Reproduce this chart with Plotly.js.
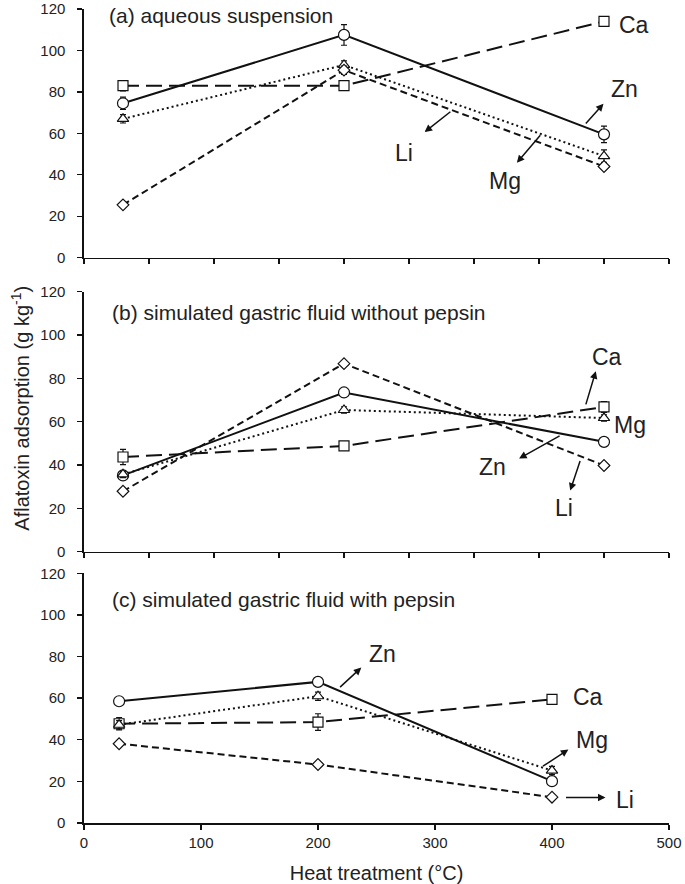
<!DOCTYPE html>
<html>
<head>
<meta charset="utf-8">
<script src="https://cdn.plot.ly/plotly-3.0.1.min.js"></script>
<style>html,body{margin:0;padding:0;background:#fff;}#chart{width:685px;height:884px;}</style>
</head>
<body>
<div id="chart"></div>
<script>
// ---- data ----
const temps = [30, 200, 400];
const metals = ['Ca', 'Zn', 'Mg', 'Li'];
const panelTitles = ['(a) aqueous suspension', '(b) simulated gastric fluid without pepsin', '(c) simulated gastric fluid with pepsin'];

// (a) aqueous suspension
const aqCa = [83, 83, 114];
const aqZn = [74.5, 107.5, 59.5];
const aqMg = [67, 93, 49];
const aqLi = [25.5, 90.5, 44];
const aqCaErr = [2.5, 1.5, 1.5];
const aqZnErr = [3, 5, 4];
const aqMgErr = [2, 2, 3];
const aqLiErr = [1, 2, 1];

// (b) simulated gastric fluid without pepsin
const sgfCa = [43.7, 48.8, 66.8];
const sgfZn = [35.2, 73.5, 50.7];
const sgfMg = [35.7, 65.4, 61.7];
const sgfLi = [27.9, 86.8, 39.8];
const sgfCaErr = [3.5, 2, 2.5];
const sgfZnErr = [1.5, 1.5, 1.5];
const sgfMgErr = [1.5, 1.5, 1.5];
const sgfLiErr = [1, 1, 1];

// (c) simulated gastric fluid with pepsin
const pepCa = [47.7, 48.5, 59.4];
const pepZn = [58.5, 67.8, 20.1];
const pepMg = [47.2, 60.9, 25.2];
const pepLi = [38.1, 28.1, 12.4];
const pepCaErr = [3, 4, 1.5];
const pepZnErr = [1, 1.5, 1.5];
const pepMgErr = [2, 2, 2];
const pepLiErr = [1, 1, 1];

// ---- styles ----
const styles = {
  Ca: {dash: '16px,7px', symbol: 'square', size: 10},
  Zn: {dash: 'solid', symbol: 'circle', size: 11},
  Mg: {dash: '2px,3px', symbol: 'triangle-up', size: 10},
  Li: {dash: '7px,4px', symbol: 'diamond', size: 9}
};

const panels = [
  {xa: 'x', ya: 'y', vals: {Ca: aqCa, Zn: aqZn, Mg: aqMg, Li: aqLi}, errs: {Ca: aqCaErr, Zn: aqZnErr, Mg: aqMgErr, Li: aqLiErr}},
  {xa: 'x2', ya: 'y2', vals: {Ca: sgfCa, Zn: sgfZn, Mg: sgfMg, Li: sgfLi}, errs: {Ca: sgfCaErr, Zn: sgfZnErr, Mg: sgfMgErr, Li: sgfLiErr}},
  {xa: 'x3', ya: 'y3', vals: {Ca: pepCa, Zn: pepZn, Mg: pepMg, Li: pepLi}, errs: {Ca: pepCaErr, Zn: pepZnErr, Mg: pepMgErr, Li: pepLiErr}}
];

const traces = [];
panels.forEach(p => {
  metals.forEach(m => {
    const s = styles[m];
    traces.push({
      type: 'scatter', mode: 'lines+markers', name: m, showlegend: false,
      x: temps, y: p.vals[m], xaxis: p.xa, yaxis: p.ya,
      line: {color: '#111', width: 2, dash: s.dash},
      marker: {symbol: s.symbol, size: s.size, color: 'white', line: {color: '#111', width: 1.2}},
      error_y: {type: 'data', array: p.errs[m], visible: true, color: '#111', thickness: 1.2, width: 3}
    });
  });
});

const FONT = 'Liberation Sans, Arial, sans-serif';
const TXT = '#222';

function xax(range, dtick, labels, anchor) {
  return {
    range: range, dtick: dtick, tick0: 0, anchor: anchor, domain: [0, 1],
    showticklabels: labels, ticks: 'outside', ticklen: 5, tickwidth: 1.3, tickcolor: '#111',
    showline: true, linecolor: '#111', linewidth: 1.6, showgrid: false, zeroline: false,
    tickfont: {family: FONT, size: 15, color: TXT}, fixedrange: true
  };
}
function yax(domain, anchor) {
  return {
    range: [0, 120], dtick: 20, tick0: 0, domain: domain, anchor: anchor,
    ticks: 'outside', ticklen: 5, tickwidth: 1.3, tickcolor: '#111', ticklabelstandoff: 9,
    ticklabeloverflow: 'allow',
    showline: true, linecolor: '#111', linewidth: 1.6, showgrid: false, zeroline: false,
    tickfont: {family: FONT, size: 15, color: TXT}, fixedrange: true
  };
}

const annotations = [];
function label(xr, yr, x, y, text, size, anchor) {
  annotations.push({xref: xr, yref: yr, x: x, y: y, text: text, showarrow: false,
    xanchor: anchor || 'center', yanchor: 'middle', font: {family: FONT, size: size, color: TXT}});
}
function arrow(xr, yr, tx, ty, hx, hy) {
  annotations.push({xref: xr, yref: yr, axref: xr, ayref: yr, x: hx, y: hy, ax: tx, ay: ty, text: '',
    showarrow: true, arrowhead: 2, arrowsize: 1, arrowwidth: 1.5, arrowcolor: '#111', standoff: 0, startstandoff: 0});
}

const TSIZE = 21;   // panel titles
const LSIZE = 23;   // element labels

// panel titles
label('x', 'y', 17.5, 117, panelTitles[0], TSIZE, 'left');
label('x2', 'y2', 20, 110.5, panelTitles[1], TSIZE, 'left');
label('x3', 'y3', 22, 107.5, panelTitles[2], TSIZE, 'left');

// panel a labels
label('x', 'y', 423, 112.5, 'Ca', LSIZE);
label('x', 'y', 416, 81.2, 'Zn', LSIZE); arrow('x', 'y', 385, 64, 399.6, 74.3);
label('x', 'y', 246, 50.6, 'Li', LSIZE); arrow('x', 'y', 283, 71, 262, 60.6);
label('x', 'y', 324, 37, 'Mg', LSIZE); arrow('x', 'y', 352, 59.8, 333, 45.8);
// panel b labels
label('x2', 'y2', 402.5, 89.9, 'Ca', LSIZE); arrow('x2', 'y2', 385.7, 67.3, 393.7, 83.3);
label('x2', 'y2', 420, 58.4, 'Mg', LSIZE);
label('x2', 'y2', 314, 39, 'Zn', LSIZE); arrow('x2', 'y2', 367, 53.8, 334.7, 43);
label('x2', 'y2', 369, 20, 'Li', LSIZE); arrow('x2', 'y2', 382, 42.5, 374, 28.2);
// panel c labels
label('x3', 'y3', 255, 81.4, 'Zn', LSIZE); arrow('x3', 'y3', 217.6, 64.6, 237, 74.7);
label('x3', 'y3', 431, 60.6, 'Ca', LSIZE);
label('x3', 'y3', 434, 40, 'Mg', LSIZE); arrow('x3', 'y3', 391, 26.8, 414, 35.3);
label('x3', 'y3', 462, 11, 'Li', LSIZE); arrow('x3', 'y3', 410.7, 12.2, 445.7, 12.2);

// y-axis title (shared)
annotations.push({xref: 'paper', yref: 'paper', x: -0.108, y: 0.51, textangle: -90, showarrow: false,
  text: 'Aflatoxin adsorption (g kg<sup>-1</sup>)', xanchor: 'center', yanchor: 'middle',
  font: {family: FONT, size: 20, color: TXT}});

const x3 = xax([0, 500], 100, true, 'y3');
x3.title = {text: 'Heat treatment (°C)', font: {family: FONT, size: 20, color: TXT}, standoff: 17};

const layout = {
  width: 685, height: 884,
  margin: {l: 84, r: 16, t: 9, b: 61},
  paper_bgcolor: 'white', plot_bgcolor: 'white',
  showlegend: false,
  font: {family: FONT, color: TXT},
  xaxis: xax([0, 450], 50, false, 'y'),
  xaxis2: xax([0, 450], 50, false, 'y2'),
  xaxis3: x3,
  yaxis: yax([0.6945, 1], 'x'),
  yaxis2: yax([0.3333, 0.6527], 'x2'),
  yaxis3: yax([0, 0.3068], 'x3'),
  annotations: annotations
};

Plotly.newPlot('chart', traces, layout, {displayModeBar: false, staticPlot: true});
</script>
</body>
</html>
